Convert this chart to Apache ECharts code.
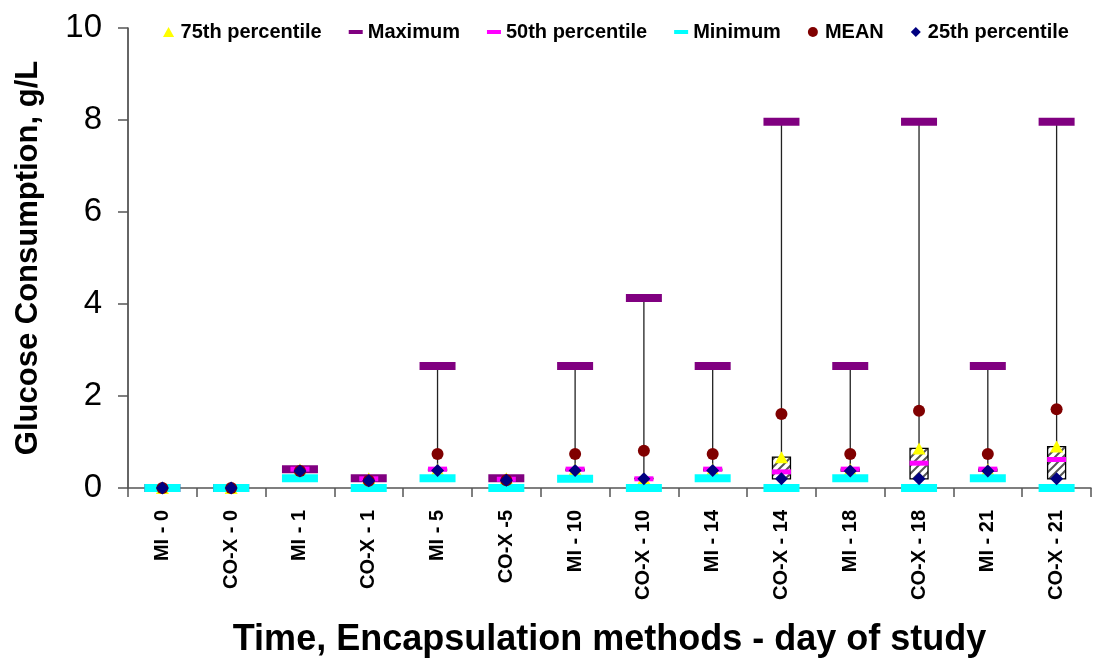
<!DOCTYPE html>
<html><head><meta charset="utf-8">
<script src="https://cdn.jsdelivr.net/npm/echarts@6/dist/echarts.min.js"></script>
<style>html,body{margin:0;padding:0;background:#fff}#c{width:1094px;height:666px}</style>
</head><body><div id="c"></div>
<script>
const categories = ['MI - 0','CO-X - 0','MI - 1','CO-X - 1','MI - 5','CO-X -5','MI - 10','CO-X - 10','MI - 14','CO-X - 14','MI - 18','CO-X - 18','MI - 21','CO-X - 21'];
const p75  = [0, 0, 0.41, 0.21, 0.41, 0.21, 0.41, 0.21, 0.41, 0.67, 0.41, 0.86, 0.41, 0.90];
const maxV = [0, 0, 0.41, 0.21, 2.65, 0.21, 2.65, 4.13, 2.65, 7.96, 2.65, 7.96, 2.65, 7.96];
const p50  = [0, 0, 0.41, 0.20, 0.41, 0.19, 0.41, 0.20, 0.41, 0.35, 0.41, 0.54, 0.41, 0.62];
const minV = [0, 0, 0.21, 0.00, 0.21, 0.00, 0.20, 0.00, 0.21, 0.00, 0.21, 0.00, 0.21, 0.00];
const mean = [0, 0, 0.37, 0.16, 0.74, 0.17, 0.74, 0.81, 0.74, 1.61, 0.74, 1.68, 0.74, 1.71];
const p25  = [0, 0, 0.37, 0.16, 0.38, 0.17, 0.38, 0.20, 0.38, 0.20, 0.37, 0.20, 0.37, 0.20];
const yTicks = [0, 2, 4, 6, 8, 10];

// hatch pattern
const pc = document.createElement('canvas');
pc.width = 8; pc.height = 8;
const g = pc.getContext('2d');
g.fillStyle = '#ffffff'; g.fillRect(0,0,8,8);
g.strokeStyle = '#555555'; g.lineWidth = 2;
g.beginPath(); g.moveTo(0,8); g.lineTo(8,0); g.moveTo(-2,2); g.lineTo(2,-2); g.moveTo(6,10); g.lineTo(10,6); g.stroke();

const chart = echarts.init(document.getElementById('c'));
const whiskerData = categories.map((c,i)=>[i, minV[i], maxV[i]]);
const boxData = categories.map((c,i)=>[i, p25[i], p75[i]]);
const font = 'Arial, "Liberation Sans", sans-serif';
const dash = 'path://M0,0 L14,0 L14,4 L0,4 Z';
chart.setOption({
  animation: false,
  textStyle: {fontFamily: font},
  legend: {
    top: 17, left: 158, itemGap: 27, itemWidth: 14, itemHeight: 10,
    textStyle: {fontSize: 20, fontWeight: 'bold', color: '#000', fontFamily: font},
    data: [
      {name: '75th percentile', icon: 'path://M5,0 L10,9 L0,9 Z'},
      {name: 'Maximum', icon: dash},
      {name: '50th percentile', icon: dash},
      {name: 'Minimum', icon: dash},
      {name: 'MEAN', icon: 'circle'},
      {name: '25th percentile', icon: 'path://M4,0 L8,4 L4,8 L0,4 Z'}
    ]
  },
  grid: {left: 128, right: 3, top: 28, bottom: 178, containLabel: false, outerBoundsMode: 'none'},
  xAxis: {
    type: 'category', data: categories, boundaryGap: true,
    axisLine: {lineStyle: {color: '#555', width: 1.5}},
    axisTick: {show: true, alignWithLabel: false, length: 9, lineStyle: {color: '#555', width: 1.5}},
    axisLabel: {rotate: 90, interval: 0, fontSize: 20, fontWeight: 'bold', color: '#000', margin: 22, fontFamily: font},
    name: 'Time, Encapsulation methods - day of study', nameLocation: 'middle', nameGap: 134,
    nameTextStyle: {fontSize: 36, fontWeight: 'bold', color: '#000', fontFamily: font}
  },
  yAxis: {
    type: 'value', min: 0, max: 10, interval: 2,
    axisLine: {show: true, lineStyle: {color: '#333', width: 1.5}},
    axisTick: {show: true, inside: false, length: 10, lineStyle: {color: '#555', width: 1.5}},
    splitLine: {show: false},
    axisLabel: {fontSize: 33, color: '#000', margin: 26, fontFamily: font,
      formatter: v => yTicks.includes(v) ? String(v) : ''},
    name: 'Glucose Consumption, g/L', nameLocation: 'middle', nameGap: 84,
    nameTextStyle: {fontSize: 31, fontWeight: 'bold', color: '#000', fontFamily: font}
  },
  series: [
    {
      type: 'custom', name: 'whisker', data: whiskerData, silent: true, z: 1,
      encode: {x: 0, y: [1,2]},
      renderItem: (params, api) => {
        const lo = api.coord([api.value(0), api.value(1)]);
        const hi = api.coord([api.value(0), api.value(2)]);
        return {type: 'line', shape: {x1: lo[0], y1: lo[1], x2: hi[0], y2: hi[1]},
          style: {stroke: '#222', lineWidth: 1.3}};
      }
    },
    {
      type: 'custom', name: 'box', data: boxData, silent: true, z: 2,
      encode: {x: 0, y: [1,2]},
      renderItem: (params, api) => {
        const lo = api.coord([api.value(0), api.value(1)]);
        const hi = api.coord([api.value(0), api.value(2)]);
        const w = 18;
        return {type: 'rect', shape: {x: lo[0]-w/2, y: hi[1], width: w, height: lo[1]-hi[1]},
          style: {fill: {image: pc, repeat: 'repeat'}, stroke: '#000', lineWidth: 1.3}};
      }
    },
    {type: 'scatter', name: '75th percentile', data: p75, symbol: 'triangle', symbolSize: [13, 12], z: 3,
      itemStyle: {color: '#ffff00', opacity: 1}},
    {type: 'scatter', name: 'Maximum', data: maxV, symbol: 'rect', symbolSize: [36, 8], z: 4,
      itemStyle: {color: '#800080', opacity: 1}},
    {type: 'scatter', name: '50th percentile', data: p50, symbol: 'rect', symbolSize: [19, 5], z: 5,
      itemStyle: {color: '#ff00ff', opacity: 1}},
    {type: 'scatter', name: 'Minimum', data: minV, symbol: 'rect', symbolSize: [36, 8], z: 6,
      itemStyle: {color: '#00ffff', opacity: 1}},
    {type: 'scatter', name: 'MEAN', data: mean, symbol: 'circle', symbolSize: 12, z: 7,
      itemStyle: {color: '#800000', opacity: 1}},
    {type: 'scatter', name: '25th percentile', data: p25, symbol: 'diamond', symbolSize: 13, z: 8,
      itemStyle: {color: '#000080', opacity: 1}}
  ]
});
</script></body></html>
